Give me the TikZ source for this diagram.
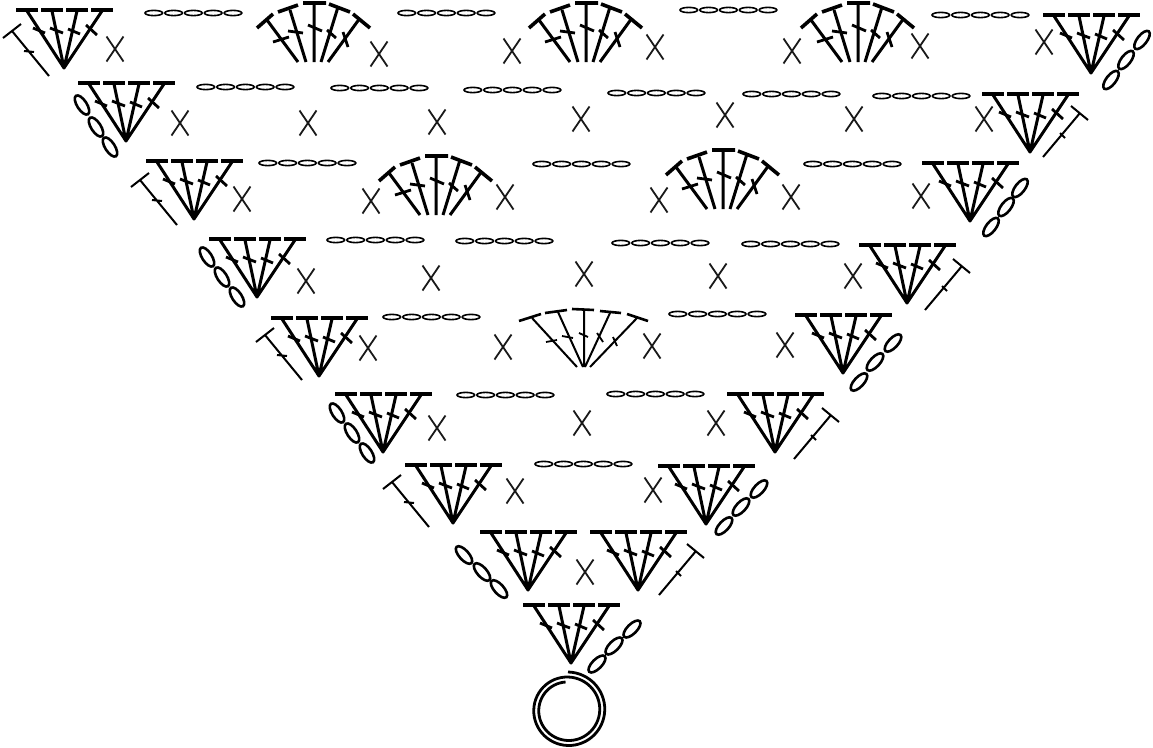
\documentclass[tikz,border=0pt]{standalone}
\tikzset{
  barline/.style={line width=3.6pt},
  stemline/.style={line width=3pt},
  crossline/.style={line width=2.8pt},
  thinstem/.style={line width=2pt},
  ovalring/.style={line width=2.6pt,fill=white},
  flatoval/.style={line width=1.6pt},
  xmark/.pic={\draw[line width=1.8pt,black!90] (-8.5,-12.5)--(8.5,12.5) (8.5,-12.5)--(-8.5,12.5);},
  chainfive/.pic={\foreach \i in {0,1,2,3,4}{\draw[flatoval] (9.8+19.8*\i,0) ellipse [x radius=8.8pt,y radius=2.6pt];}},
  fanfour/.pic={
    \draw[barline] (-48,-59)--(-26,-59) (-23,-59)--(-1,-59) (2,-59)--(24,-59) (27,-59)--(49,-59);
    \draw[stemline,line cap=round] (-37,-58)--(0,-1) (-12,-58)--(0,-1) (13,-58)--(0,-1) (38,-58)--(0,-1);
    \draw[crossline] (-31,-41)--(-19,-36) (-14,-41)--(-1,-36) (4,-40)--(16,-35) (22,-44)--(33,-34);
  },
  fanfive/.pic={
    \draw[barline] (-57,-34)--(-41,-48) (-36,-50)--(-16,-57) (-11,-59)--(12,-59) (15,-58)--(36,-50) (39,-48)--(56,-34);
    \draw[stemline] (-47,-42)--(-16,0) (-24,-52)--(-8,0) (0,-59)--(0,0) (24,-55)--(7,0) (46,-44)--(14,0);
    \draw[crossline] (-41,-20)--(-25,-25) (-26,-31)--(-11,-29) (-6,-37)--(8,-31) (13,-32)--(22,-24) (29,-30)--(34,-15);
  },
  fanthin/.pic={
    \draw[line width=2.6pt] (-65,-46)--(-43,-53) (-39,-54)--(-17,-57) (-12,-58)--(10,-57) (16,-56)--(37,-54) (43,-53)--(64,-46);
    \draw[thinstem] (-52,-49)--(-7,0) (-26,-55)--(-1,0) (0,-57)--(0,0) (26,-54)--(1,0) (53,-49)--(6,0);
    \draw[line width=1.8pt] (-38,-25)--(-27,-27) (-22,-31)--(-11,-29) (-5,-34)--(4,-30) (13,-34)--(19,-25) (29,-30)--(33,-21);
  },
  sideleft/.pic={
    \draw[line width=2pt] (-9,7)--(9,-7) (0,0)--(37,45) (12,20)--(22,21);
  },
  sideright/.pic={
    \draw[line width=2pt] (-9,-7)--(8,7) (0,0)--(-37,44) (-20,20)--(-15,25);
  }
}
\begin{document}
\begin{tikzpicture}[x=1pt,y=-1pt]
\useasboundingbox (0,0) rectangle (1153,747);
% four-stitch fans
\foreach \x/\y in {64/69,1091/74,126/142,1030/153,194/220,970/222,257/298,907/304,319/377,843/374,383/453,775/453,453/524,706/525,528/591,638/591,571/664}
  \pic at (\x,\y) {fanfour};
% five-stitch fans
\foreach \x/\y in {314/62,586/62,858/62,436/215,723/209}
  \pic at (\x,\y) {fanfive};
\pic at (584,367) {fanthin};
% x stitches
\foreach \x/\y in {115/49,379/54,512/51,655/47,792/51,920/46,1044/42,
  180/123,308/123,437/122,581/119,725/115,854/119,984/119,
  242/199,371/201,505/197,659/200,791/197,921/196,
  306/281,431/278,584/274,718/276,853/276,
  368/348,503/347,652/346,785/345,
  437/428,582/423,716/423,
  515/491,653/490,
  585/572}
  \pic at (\x,\y) {xmark};
% horizontal chains
\foreach \x/\y in {144/13,397/13,679/10,931/15,
  196/87,330/88,463/90,607/93,742/94,872/96,
  258/163,532/164,803/164,
  326/240,455/241,611/243,741/244,
  382/317,668/314,
  456/395,606/394,
  534/464}
  \pic at (\x,\y) {chainfive};
% diagonal chains
\foreach \x/\y/\a in {82/105/-57,96/127/-57,110/147/-57,
  207/257/-57,222/277/-57,237/297/-57,
  337/413/-57,352/433/-57,367/453/-57,
  464/555/-48,482/572/-48,499/589/-48,
  1142/40/52,1126/60/52,1111/80/52,
  1020/188/52,1006/207/52,991/227/52,
  893/343/47,875/362/47,859/382/47,
  759/489/47,741/507/47,724/526/47,
  632/629/45,614/646/45,597/664/45}
  \draw[ovalring,shift={(\x,\y)},rotate=\a] (0,0) ellipse [x radius=11pt,y radius=4.8pt];
% single side stitches
\foreach \x/\y in {12/31,140/180,265/335,392/482}
  \pic at (\x,\y) {sideleft};
\foreach \x/\y in {1080/113,962/266,831/415,696/551}
  \pic at (\x,\y) {sideright};
% ring
\draw[line width=2.8pt,smooth] plot[domain=0:715,samples=120] ({568+(38-\x/72)*sin(\x)},{710-(38-\x/72)*cos(\x)});
\end{tikzpicture}
\end{document}
